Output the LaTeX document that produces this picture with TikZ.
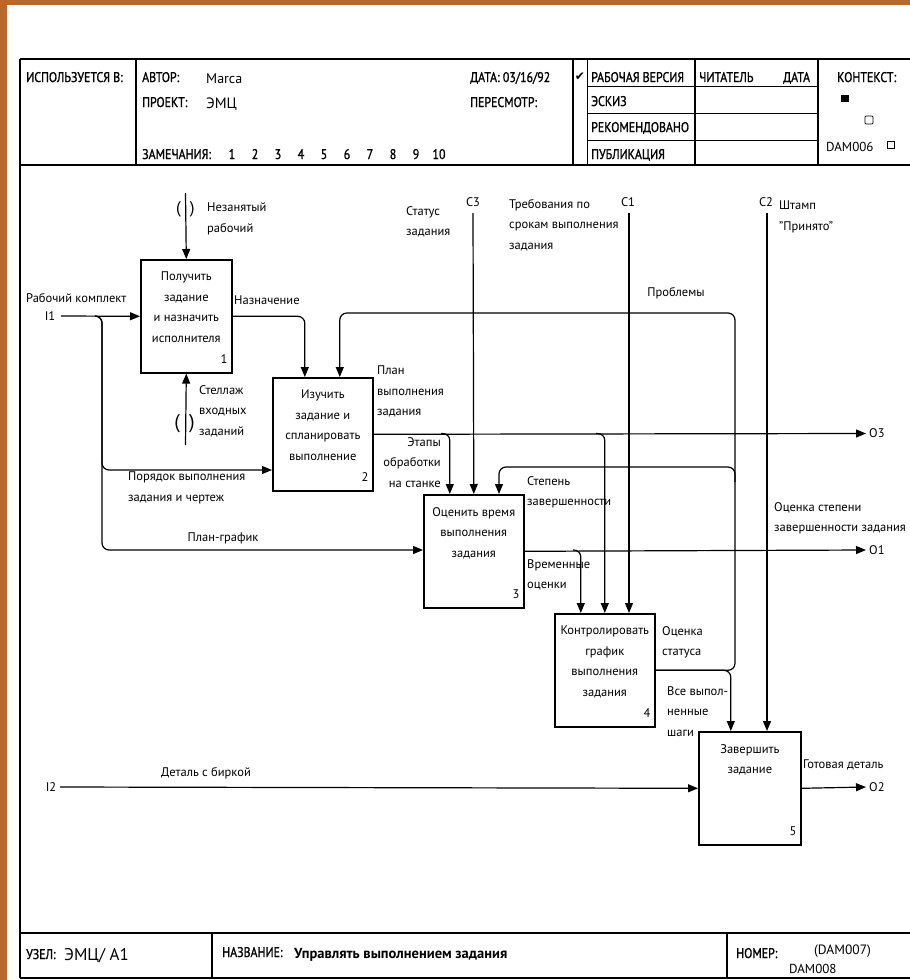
\documentclass[tikz,border=0pt]{standalone}
\usepackage{fontspec}
\setmainfont{PT Sans}
\newfontfamily\hdf[FakeStretch=0.85,FakeBold=1.2]{PT Sans}
\newfontfamily\symf{DejaVu Sans}
\usetikzlibrary{arrows.meta}
\definecolor{wood}{RGB}{184,104,44}
\newcommand{\lbl}{\fontsize{12.5}{20.5}\selectfont}
\newcommand{\hdr}{\hdf\fontsize{14}{16}\selectfont}
\tikzset{
  fr/.style={line width=1.4pt},
  blk/.style={draw,line width=1.6pt,minimum height=113pt,inner sep=0pt,anchor=north west},
  ar/.style={line width=1.2pt,rounded corners=7pt,-{Triangle[length=10pt,width=8pt]}},
  lb/.style={font=\lbl,align=left,inner sep=0pt},
  bt/.style={font=\lbl,align=center,inner sep=0pt,anchor=north},
  nr/.style={font=\lbl,inner sep=0pt,anchor=south east},
  hd/.style={font=\hdr,inner sep=0pt,anchor=base west},
  tn/.style={inner sep=0pt,font=\fontsize{17}{17}\selectfont}
}
\newcommand{\blok}[6]{\node[blk,minimum width=#4] (#1) at (#2,#3) {};
  \node[bt] (#1t) at ([yshift=-13pt]#1.north) {#5};
  \node[nr] (#1n) at ([xshift=-5pt,yshift=10pt]#1.south east) {#6};}

\begin{document}
\begin{tikzpicture}[x=1pt,y=-1pt]
\useasboundingbox (0,0) rectangle (910,980);
\fill[white] (0,0) rectangle (910,980);
\fill[wood] (0,0) rectangle (7,980); \fill[wood] (0,0) rectangle (910,5);

\draw[fr] (20,59) -- (912,59) (20,165) -- (912,165) (20,933) -- (912,933) (20,978) -- (912,978) (20,59) -- (20,978);
\draw[fr] (136,59) -- (136,165) (573,59) -- (573,165) (695,59) -- (695,165) (818,59) -- (818,165);
\draw[line width=1pt] (587,86) -- (818,86) (587,113) -- (818,113) (587,140) -- (818,140) (587,59) -- (587,165);
\draw[fr] (212,933) -- (212,978) (727,933) -- (727,978);

\node[hd] (hisp) at (26,82) {ИСПОЛЬЗУЕТСЯ В:};
\node[hd] (hav) at (142,82) {АВТОР:}; \node[hd,font=\fontsize{14}{14}\selectfont] (hmar) at (206,83) {Marca};
\node[hd] (hpr) at (142,107) {ПРОЕКТ:}; \node[hd,font=\fontsize{15}{15}\selectfont] (hemc) at (206,108) {ЭМЦ};
\node[hd] (hzam) at (142,159) {ЗАМЕЧАНИЯ:};
\foreach \k [count=\i from 0] in {1,...,10} \node[hd,anchor=base] (hz\k) at (232+23*\i,159) {\k};
\node[hd] (hdat) at (470,82) {ДАТА: 03/16/92}; \node[hd] (hper) at (470,107) {ПЕРЕСМОТР:};
\node[font=\symf\fontsize{12}{12}\selectfont,inner sep=0pt] (hchk) at (580,77) {✔};
\node[hd] (hs1) at (591,82) {РАБОЧАЯ ВЕРСИЯ}; \node[hd] (hs2) at (591,106) {ЭСКИЗ};
\node[hd] (hs3) at (591,132) {РЕКОМЕНДОВАНО}; \node[hd] (hs4) at (591,159) {ПУБЛИКАЦИЯ};
\node[hd] (hrd) at (699,82) {ЧИТАТЕЛЬ}; \node[hd] (hrdt) at (783,82) {ДАТА};
\node[hd] (hctx) at (837,82) {КОНТЕКСТ:};
\fill (841,95) rectangle (849,102);
\draw[line width=0.8pt,rounded corners=1pt] (865,116) rectangle (873,124);
\draw[line width=0.8pt] (887,141) rectangle (894,148);
\node[hd,font=\fontsize{13}{13}\selectfont] (hdam) at (826,151) {DAM006};

\node[hd] (fuz) at (26,959) {УЗЕЛ:}; \node[hd,font=\fontsize{17}{17}\selectfont] (fuzv) at (64,960) {ЭМЦ/ А1};
\node[hd] (fnaz) at (222,957) {НАЗВАНИЕ:};
\node[hd,font=\bfseries\fontsize{14.5}{15}\selectfont] (fnazv) at (294,958) {Управлять выполнением задания};
\node[hd] (fnom) at (736,958) {НОМЕР:};
\node[hd,font=\fontsize{13.5}{14}\selectfont] (fn1) at (814,954) {(DAM007)};
\node[hd,font=\fontsize{13}{14}\selectfont] (fn2) at (789,973) {DAM008};

\blok{b1}{140}{259}{91pt}{Получить\\задание\\и назначить\\исполнителя}{1}
\blok{b2}{272}{377}{100pt}{Изучить\\задание и\\спланировать\\выполнение}{2}
\blok{b3}{423}{494}{100pt}{Оценить время\\выполнения\\задания}{3}
\blok{b4}{554}{613}{100pt}{Контролировать\\график\\выполнения\\задания}{4}
\blok{b5}{698}{731}{102pt}{Завершить\\задание}{5}

\coordinate (M1) at (185.5,193); \coordinate (M2) at (185.5,445);
\coordinate (I1) at (61,316); \coordinate (j1) at (95,316);
\coordinate (f1) at (102,470); \coordinate (f2) at (102,550);
\coordinate (I2) at (60,787);
\coordinate (C3) at (473,213); \coordinate (C1) at (629,213); \coordinate (C2) at (767,213);
\coordinate (O3) at (866,433.5); \coordinate (O1) at (866,550); \coordinate (O2) at (866,787);
\coordinate (e1) at (441,433.5); \coordinate (e2) at (596,433.5); \coordinate (e3) at (573,550);
\coordinate (pr) at (735,313); \coordinate (st0) at (735,482); \coordinate (st1) at (499,467);

\node[tn] (tM1) at (185.5,209) {(\hspace{9pt})};
\node[tn,font=\fontsize{20}{20}\selectfont] (tM2) at (184.5,424) {(\hspace{9pt})};

\draw[ar] (M1) -- (b1.north);
\draw[ar] (M2) -- (b1.south);
\draw[ar] (I1) -- (b1.west);
\draw[ar] (j1) -| (f1) -- (f1 -| b2.west);
\draw[ar] (j1) -| (f2) -- (f2 -| b3.west);
\draw[ar] (b1.east) -| ([xshift=-18pt]b2.north);
\draw[ar] (b4.east) -| (pr) -| ([xshift=17pt]b2.north);
\draw[ar] (b4.east) -| ([xshift=-19pt]b5.north);
\draw[ar] (st0) |- (st1) -- (st1 |- b3.north);
\draw[ar] (b2.east) -- (O3);
\draw[ar] (e1) -| ([xshift=-24pt]b3.north);
\draw[ar] (e2) -| (b4.north);
\draw[ar] (b3.east) -- (O1);
\draw[ar] (e3) -| ([xshift=-24pt]b4.north);
\draw[ar] (C3) -- (b3.north);
\draw[ar] (C1) -- (C1 |- b4.north);
\draw[ar] (C2) -- (C2 |- b5.north);
\draw[ar] (I2) -- (b5.west);
\draw[ar] (b5.east) -- (O2);

\node[lb,anchor=north west] (lnez) at (207,203) {Незанятый\\рабочий};
\node[lb,anchor=north west] (lstel) at (199,385) {Стеллаж\\входных\\заданий};
\node[lb,anchor=west] (lrk) at (26,298) {Рабочий комплект};
\node[lb] (li1) at (50,316) {I1};
\node[lb,anchor=west] (lnaz) at (234,300) {Назначение};
\node[lb,anchor=north west] (lplan) at (377,366) {План\\выполнения\\задания};
\node[lb,anchor=north east,align=right] (letap) at (441,437) {Этапы\\обработки\\на станке};
\node[lb,anchor=north west] (lstat) at (406,206) {Статус\\задания};
\node[lb] (lc3) at (473,202) {C3};
\node[lb,anchor=north west] (ltreb) at (509,199) {Требования по\\срокам выполнения\\задания};
\node[lb] (lc1) at (628,202) {C1};
\node[lb] (lc2) at (766,202) {C2};
\node[lb,anchor=north west] (lshtamp) at (779,201) {Штамп\\"Принято"};
\node[lb] (lprob) at (676,293) {Проблемы};
\node[lb,anchor=north west] (lstep) at (527,476) {Степень\\завершенности};
\node[lb,anchor=north west] (lvrem) at (527,559) {Временные\\оценки};
\node[lb,anchor=north west] (lpor) at (128,472) {Порядок выполнения\\задания и чертеж};
\node[lb] (lpg) at (223,538) {План-график};
\node[lb,anchor=north west] (locst) at (774,502) {Оценка степени\\завершенности задания};
\node[lb,anchor=north west] (lost) at (662,626) {Оценка\\статуса};
\node[lb,anchor=north west] (lvse) at (667,686) {Все выпол-\\ненные\\шаги};
\node[lb] (ldet) at (206,773) {Деталь с биркой};
\node[lb] (li2) at (51,787) {I2};
\node[lb,anchor=west] (lgot) at (803,765) {Готовая деталь};
\node[lb,anchor=west] (lo3) at (869,433.5) {O3};
\node[lb,anchor=west] (lo1) at (869,550) {O1};
\node[lb,anchor=west] (lo2) at (869,787) {O2};
\end{tikzpicture}
\end{document}
